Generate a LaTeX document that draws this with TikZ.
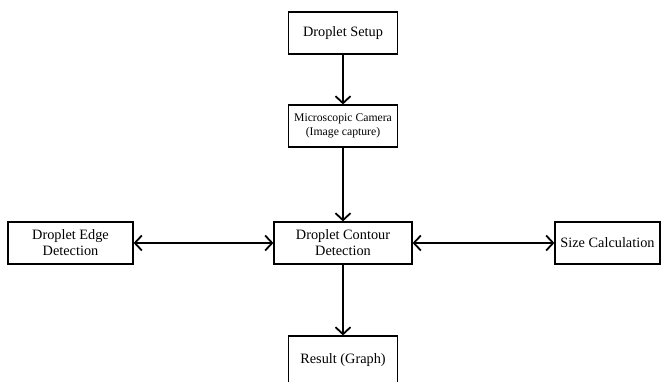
\documentclass[tikz,border=0pt]{standalone}
\usepackage{fontspec}
\setmainfont{Liberation Serif}
\usetikzlibrary{arrows.meta}

\tikzset{
  box/.style={draw, line width=1.2pt, minimum height=42pt, inner sep=0pt,
    align=center, font=\fontsize{14.3}{16}\selectfont},
  link/.style={line width=1.8pt, -{Straight Barb[length=7pt,width=15pt,line width=1.8pt]}},
  dlink/.style={line width=1.8pt, {Straight Barb[length=7pt,width=15pt,line width=1.8pt]}-{Straight Barb[length=7pt,width=15pt,line width=1.8pt]}}
}

\begin{document}
\begin{tikzpicture}[x=1pt,y=-1pt]
			\clip (0,0) rectangle (661,381);
			\node[box, minimum width=109pt] (setup) at (343,33) {Droplet Setup};
			\node[box, minimum width=109pt, font=\fontsize{11.7}{14}\selectfont] (camera) at (343,126) {Microscopic Camera\\(Image capture)};
			\node[box, minimum width=138pt] (contour) at (343,243) {Droplet Contour\\Detection};
			\node[box, minimum width=125pt] (edge) at (70.5,243) {Droplet Edge\\Detection};
			\node[box, minimum width=105pt] (size) at (607.5,243) {Size Calculation};
			\node[box, minimum width=109pt, minimum height=48pt] (result) at (343,360) {Result (Graph)};
			\draw[link] (setup) -- (camera);
			\draw[link] (camera) -- (contour);
			\draw[link] (contour) -- (result);
			\draw[dlink] (edge) -- (contour);
			\draw[dlink] (contour) -- (size);
		\end{tikzpicture}
\end{document}
